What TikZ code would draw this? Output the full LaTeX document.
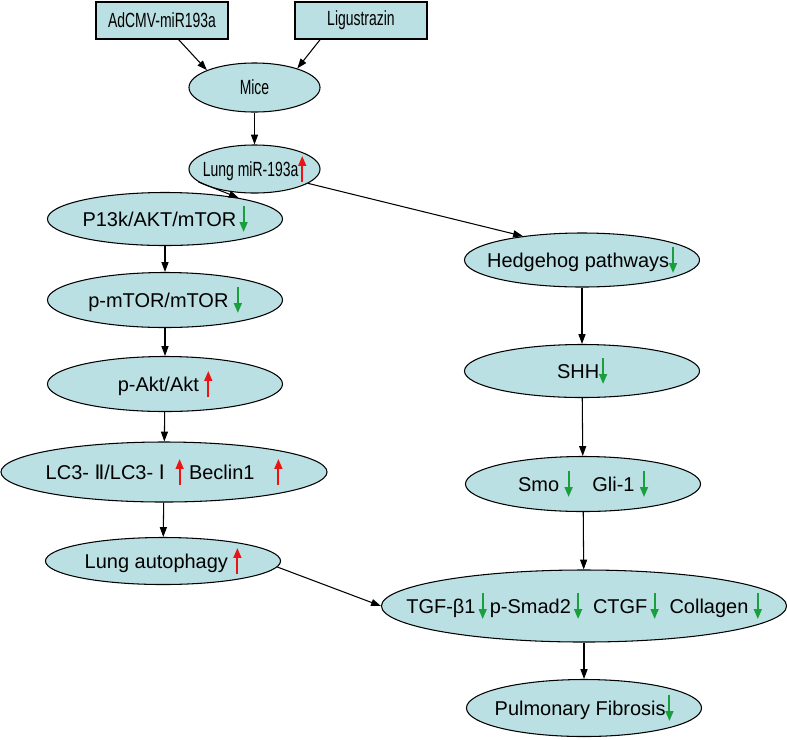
\documentclass[tikz,border=0pt]{standalone}
\usepackage{fontspec}
\setmainfont{Liberation Sans}
\newfontfamily\narrowfont[FakeStretch=0.68]{Liberation Sans}
\newfontfamily\romanfont{DejaVu Sans}
\usetikzlibrary{shapes.geometric,arrows.meta}

\definecolor{cellblue}{RGB}{187,224,227}
\definecolor{upred}{RGB}{235,20,20}
\definecolor{downgreen}{RGB}{25,160,60}

\newcommand{\upar}{\tikz[baseline=0pt]\draw[upred,line width=1.4pt,-{Triangle[length=7pt,width=5.5pt]}] (0,-0.15cm) -- (0,0.5cm);}
\newcommand{\dnar}{\tikz[baseline=0pt]\draw[downgreen,line width=1.4pt,-{Triangle[length=7pt,width=5.5pt]}] (0,0.5cm) -- (0,-0.15cm);}

\begin{document}
\begin{tikzpicture}[x=0.025cm,y=-0.025cm,
    font=\fontsize{14.2}{17}\selectfont,
    box/.style={rectangle,draw,line width=0.75pt,fill=cellblue,inner sep=0pt,
      minimum width=3.3cm,minimum height=0.925cm,font=\fontsize{14.6}{17}\narrowfont},
    oval/.style={ellipse,draw,line width=0.75pt,fill=cellblue,inner sep=-3cm,
      minimum width=5.875cm,minimum height=1.35cm},
    link/.style={line width=0.75pt,-{Triangle[length=7pt,width=5pt]}}]
  \useasboundingbox (0,0) rectangle (787,739);

  \node[box] (ad) at (162,20.5) {AdCMV-miR193a};
  \node[box] (lig) at (361,20.5) {Ligustrazin};
  \node[oval,minimum width=3.275cm,minimum height=1.225cm,font=\fontsize{14.6}{17}\narrowfont] (mice) at (254.5,87.5) {Mice};
  \node[oval,minimum width=3.275cm,minimum height=1.2cm,font=\fontsize{14.6}{17}\narrowfont] (lung) at (254.5,169) {Lung miR-193a\upar};

  \node[oval,minimum height=1.325cm] (p13k) at (165,219) {P13k/AKT/mTOR\,\dnar};
  \node[oval,minimum height=1.375cm] (pmtor) at (165,300) {p-mTOR/mTOR \dnar};
  \node[oval,minimum height=1.375cm] (pakt) at (165,384) {p-Akt/Akt \upar};
  \node[oval,minimum width=8.15cm,minimum height=1.5cm] (lc3) at (164,472)
    {LC3-\ {\romanfont Ⅱ}/LC3-\ {\romanfont Ⅰ}\ \ \upar\ Beclin1\hspace{0.5cm}\upar};
  \node[oval,minimum height=1.175cm] (auto) at (163,561) {Lung autophagy \upar};

  \node[oval] (hh) at (582,260) {Hedgehog pathways\dnar};
  \node[oval,minimum height=1.325cm] (shh) at (582,371) {SHH\dnar};
  \node[oval,minimum height=1.375cm] (smo) at (583,484) {Smo \dnar\quad Gli-1 \dnar};
  \node[oval,minimum width=10.125cm,minimum height=1.8cm] (tgf) at (584,606)
    {TGF-β1\,\dnar\,p-Smad2\,\dnar\ \ CTGF\,\dnar\ \ Collagen \dnar};
  \node[oval,minimum height=1.425cm] (pf) at (584,708) {Pulmonary Fibrosis\dnar};

  \draw[link] (ad.-49) -- (mice.160);
  \draw[link] (lig.-155) -- (mice.24);
  \draw[link] (mice) -- (lung);
  \draw[link] (lung.-167) -- (p13k.16);
  \draw[link] (lung.-15) -- (hh.158);
  \draw[link] (p13k) -- (pmtor);
  \draw[link] (pmtor) -- (pakt);
  \draw[link] (pakt) -- (lc3);
  \draw[link] (lc3) -- (auto);
  \draw[link] (auto.-3) -- (tgf.west);
  \draw[link] (hh) -- (shh);
  \draw[link] (shh) -- (smo);
  \draw[link] (smo) -- (tgf);
  \draw[link] (tgf) -- (pf);
\end{tikzpicture}
\end{document}
